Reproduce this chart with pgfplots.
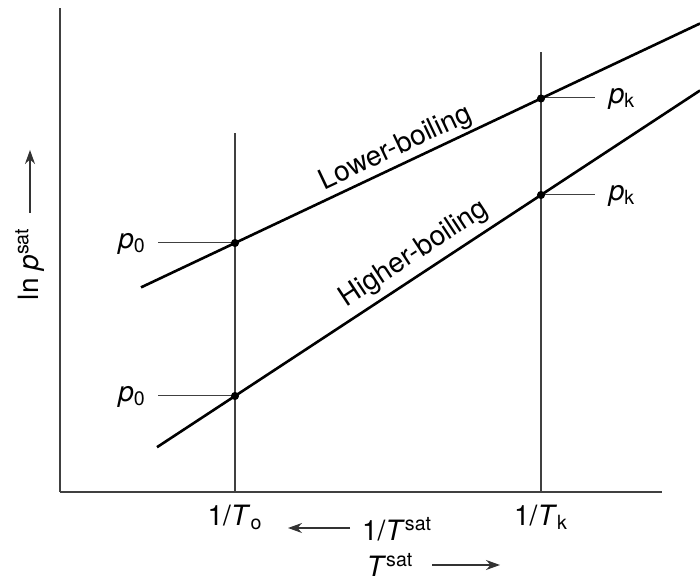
\documentclass[border=0pt]{standalone}
\usepackage{fontspec}
\setmainfont{TeX Gyre Heros}
\usepackage{pgfplots}
\pgfplotsset{compat=1.18}
\usetikzlibrary{arrows.meta}
\begin{document}
\begin{tikzpicture}[font=\fontsize{14}{16}\selectfont]
\begin{axis}[
  x=0.5pt, y=0.5pt,
  xmin=60, xmax=662, ymin=0, ymax=484,
  axis lines=left,
  axis line style={-, line width=0.8pt, black!75},
  clip=false,
  xtick={235,541},
  xticklabels={1/\textit{T}\textsubscript{o}, 1/\textit{T}\textsubscript{k}},
  ytick=\empty,
  major tick length=0pt,
  xticklabel style={font=\fontsize{14}{16}\selectfont, yshift=-3pt},
]
% vertical reference lines
\addplot[black!75, line width=0.7pt] coordinates {(235,0) (235,359)};
\addplot[black!75, line width=0.7pt] coordinates {(541,0) (541,440)};
% short horizontal marker lines
\addplot[black!75, line width=0.5pt] coordinates {(158,249) (235,249)};
\addplot[black!75, line width=0.5pt] coordinates {(158,96) (235,96)};
\addplot[black!75, line width=0.5pt] coordinates {(541,394) (595,394)};
\addplot[black!75, line width=0.5pt] coordinates {(541,297) (595,297)};
% lower-boiling
\addplot[black, line width=1.3pt] coordinates {(141,204.6) (235,249) (541,393.5) (700,468.5)};
% higher-boiling
\addplot[black, line width=1.3pt] coordinates {(157,44.8) (235,96) (541,297) (700,401.5)};
% dots
\addplot[only marks, mark=*, mark size=1.8pt, black] coordinates {(235,249) (541,393.5) (235,96) (541,297)};

\node[rotate=25.3, anchor=south, inner sep=1.5pt] at (axis cs:403,328.5) {Lower-boiling};
\node[rotate=33.3, anchor=south, inner sep=3pt] at (axis cs:425,221.5) {Higher-boiling};

\node at (axis cs:132,248) {\textit{p}\textsubscript{0}};
\node at (axis cs:132,95) {\textit{p}\textsubscript{0}};
\node at (axis cs:622,393) {\textit{p}\textsubscript{k}};
\node at (axis cs:622,296) {\textit{p}\textsubscript{k}};

\node[rotate=90] at (axis cs:30,228) {ln \textit{p}\textsuperscript{sat}};
\draw[black!80, line width=0.6pt, -{Stealth[length=7pt,width=5pt]}] (axis cs:30,279) -- (axis cs:30,342);

\node[anchor=west] at (axis cs:355,-37) {1/\textit{T}\textsuperscript{sat}};
\draw[black!80, line width=0.6pt, -{Stealth[length=7pt,width=5pt]}] (axis cs:350,-36) -- (axis cs:288,-36);
\node at (axis cs:390,-73) {\textit{T}\textsuperscript{sat}};
\draw[black!80, line width=0.6pt, -{Stealth[length=7pt,width=5pt]}] (axis cs:432,-73) -- (axis cs:500,-73);

\coordinate (bl) at (axis cs:0,-89);
\coordinate (tr) at (axis cs:700,492);
\end{axis}
\pgfresetboundingbox
\useasboundingbox (bl) rectangle (tr);
\end{tikzpicture}
\end{document}
